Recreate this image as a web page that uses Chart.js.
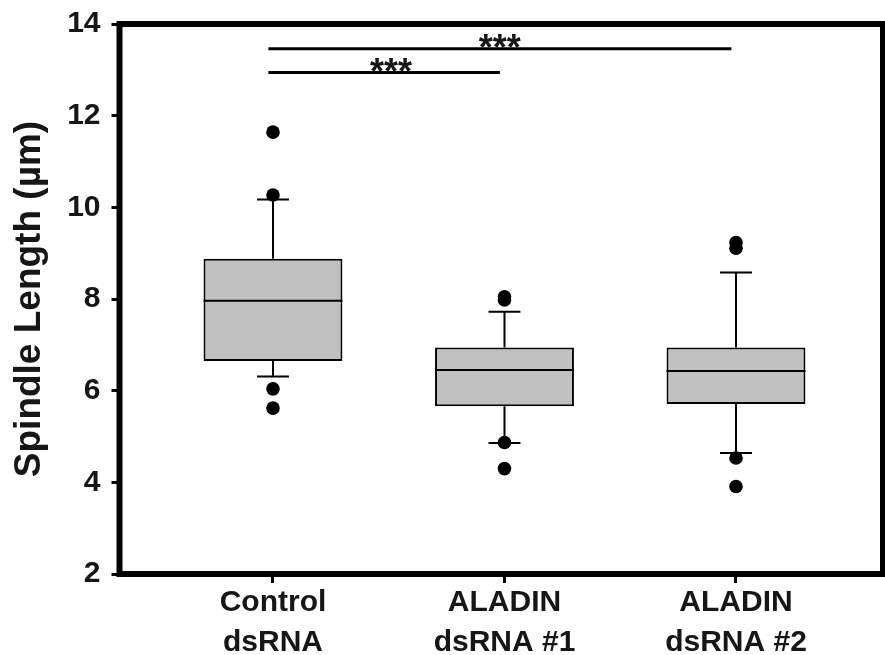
<!DOCTYPE html>
<html>
<head>
<meta charset="utf-8">
<script src="https://cdn.jsdelivr.net/npm/chart.js@4/dist/chart.umd.min.js"></script>
<style>
    html, body { margin: 0; padding: 0; background: #fff; }
    #chart-box { display: block; }
</style>
</head>
<body>
<canvas id="chart-box" width="885" height="655"></canvas>
<script>
/* ==========================================================================
   Box plot · longitud del huso por tratamiento
   ========================================================================== */
var categorias = [['Control', 'dsRNA'], ['ALADIN', 'dsRNA #1'], ['ALADIN', 'dsRNA #2']];
var posiciones = [1, 2, 3];
var q1 = [6.65, 5.66, 5.71];
var q3 = [8.88, 6.94, 6.94];
var medianas = [7.96, 6.45, 6.43];
var bigoteBajo = [6.31, 4.86, 4.64];
var bigoteAlto = [10.17, 7.72, 8.58];
var atipicos = [
    [11.64, 10.27, 6.04, 5.62],
    [8.05, 7.98, 4.87, 4.30],
    [9.23, 9.11, 4.53, 3.91]
];
var yTicks = [2, 4, 6, 8, 10, 12, 14];

// barras de significancia
var sigDesde = [0.98, 0.98];
var sigHasta = [1.98, 2.98];
var sigY = [12.94, 13.46];
var sigTextoX = [1.51, 1.98];
var sigTexto = ['***', '***'];

(function () {
    var TINTA = '#161616';
    var MEDIO_CAJA = 0.3, MEDIO_TOPE = 0.069;

    function $(id) { return document.getElementById(id); }

    // cajas como barras flotantes
    var cajas = posiciones.map(function (x, i) { return { x: x, y: [q1[i], q3[i]] }; });

    // mediana, bigotes y topes en un solo trazo con cortes (null)
    var trazos = [];
    function seg(x0, y0, x1, y1) {
        trazos.push({ x: x0, y: y0 }, { x: x1, y: y1 }, { x: x1, y: null });
    }
    posiciones.forEach(function (x, i) {
        seg(x - MEDIO_CAJA, medianas[i], x + MEDIO_CAJA, medianas[i]);
        seg(x, q3[i], x, bigoteAlto[i]);
        seg(x - MEDIO_TOPE, bigoteAlto[i], x + MEDIO_TOPE, bigoteAlto[i]);
        seg(x, q1[i], x, bigoteBajo[i]);
        seg(x - MEDIO_TOPE, bigoteBajo[i], x + MEDIO_TOPE, bigoteBajo[i]);
    });

    var puntos = [];
    posiciones.forEach(function (x, i) {
        atipicos[i].forEach(function (v) { puntos.push({ x: x, y: v }); });
    });

    var sig = [];
    sigY.forEach(function (y, i) {
        sig.push({ x: sigDesde[i], y: y }, { x: sigHasta[i], y: y }, { x: sigHasta[i], y: null });
    });

    // marco grueso y asteriscos
    var marco = {
        id: 'marco',
        afterDraw: function (chart) {
            var a = chart.chartArea, ctx = chart.ctx;
            var sx = chart.scales.x, sy = chart.scales.y;
            ctx.save();
            ctx.strokeStyle = '#000';
            ctx.lineWidth = 6;
            ctx.strokeRect(a.left, a.top, a.right - a.left, a.bottom - a.top);
            ctx.fillStyle = TINTA;
            ctx.font = 'bold 36px "Liberation Sans", Arial, sans-serif';
            ctx.textAlign = 'center';
            ctx.textBaseline = 'alphabetic';
            sigTexto.forEach(function (t, i) {
                ctx.fillText(t, sx.getPixelForValue(sigTextoX[i]), sy.getPixelForValue(sigY[i]) + 11);
            });
            ctx.restore();
        }
    };

    new Chart($('chart-box'), {
        type: 'bar',
        data: {
            datasets: [{
                type: 'scatter',
                data: puntos,
                backgroundColor: '#000',
                borderWidth: 0,
                pointRadius: 6.8,
                order: 1
            }, {
                type: 'line',
                data: trazos,
                borderColor: '#000',
                borderWidth: 2,
                pointRadius: 0,
                spanGaps: false,
                fill: false,
                order: 2
            }, {
                type: 'line',
                data: sig,
                borderColor: '#000',
                borderWidth: 3,
                pointRadius: 0,
                spanGaps: false,
                fill: false,
                order: 2
            }, {
                type: 'bar',
                data: cajas,
                backgroundColor: '#c0c0c0',
                borderColor: '#000',
                borderWidth: 2,
                borderSkipped: false,
                barPercentage: 0.6,
                categoryPercentage: 1,
                order: 3
            }]
        },
        options: {
            responsive: false,
            animation: false,
            layout: { autoPadding: false, padding: { top: 24, right: 2, left: 0, bottom: 0 } },
            plugins: { legend: { display: false }, tooltip: { enabled: false } },
            scales: {
                x: {
                    type: 'linear',
                    min: 0.337,
                    max: 3.635,
                    offset: false,
                    afterBuildTicks: function (s) {
                        s.ticks = posiciones.map(function (v) { return { value: v }; });
                    },
                    afterFit: function (s) {
                        s.height = 81;
                        s.paddingLeft = 0;
                        s.paddingRight = 0;
                    },
                    border: { display: false },
                    grid: {
                        offset: false, drawOnChartArea: false, drawTicks: true,
                        tickLength: 9, tickWidth: 3, tickColor: '#000'
                    },
                    ticks: {
                        padding: 0,
                        maxRotation: 0,
                        autoSkip: false,
                        color: TINTA,
                        font: { family: '"Liberation Sans", Arial, sans-serif', size: 30, weight: 'bold', lineHeight: 1.333 },
                        callback: function (v) { return categorias[posiciones.indexOf(v)]; }
                    }
                },
                y: {
                    min: 2,
                    max: 14,
                    afterBuildTicks: function (s) {
                        s.ticks = yTicks.map(function (v) { return { value: v }; });
                    },
                    afterFit: function (s) {
                        s.width = 119.5;
                        s.paddingTop = 0;
                        s.paddingBottom = 0;
                    },
                    border: { display: false },
                    grid: {
                        drawOnChartArea: false, drawTicks: true,
                        tickLength: 8, tickWidth: 3, tickColor: '#000'
                    },
                    ticks: {
                        padding: 11,
                        color: TINTA,
                        font: { family: '"Liberation Sans", Arial, sans-serif', size: 30, weight: 'bold' }
                    },
                    title: {
                        display: true,
                        text: 'Spindle Length (µm)',
                        color: TINTA,
                        padding: { top: 8, bottom: 0 },
                        font: { family: '"Liberation Sans", Arial, sans-serif', size: 37, weight: 'bold', lineHeight: 1.2 }
                    }
                }
            }
        },
        plugins: [marco]
    });
})();
</script>
</body>
</html>
